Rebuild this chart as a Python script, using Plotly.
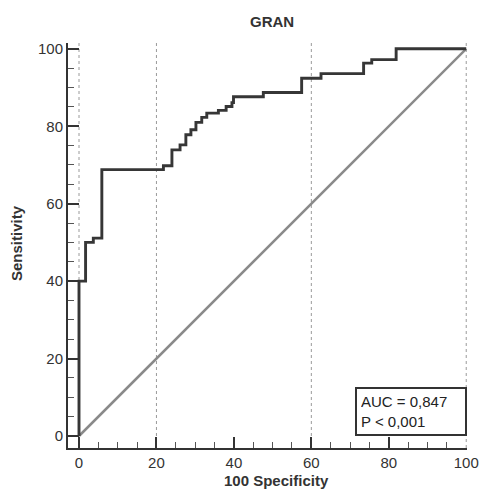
import plotly.graph_objects as go

# ROC curve points (100-Specificity, Sensitivity), drawn as steps
fpr = [0, 0, 1.7, 3.7, 5.9, 21.8, 24.0, 26.1, 27.6, 28.9, 30.2, 31.7, 33.0,
       36.0, 38.0, 39.5, 39.9, 47.6, 57.5, 62.5, 73.5, 75.6, 81.9, 100]
tpr = [0, 40, 50.0, 51.1, 68.8, 69.8, 73.9, 75.2, 77.8, 79.1, 81.0, 82.3, 83.4,
       84.1, 85.1, 86.1, 87.6, 88.7, 92.4, 93.6, 96.3, 97.2, 100, 100]
ref_x = [0, 100]
ref_y = [0, 100]
grid_x = [0, 20, 60, 100]
title_text = "<b>GRAN</b>"
x_title = "<b>100 Specificity</b>"
y_title = "<b>Sensitivity</b>"
auc_text = "AUC = 0,847<br>P < 0,001"

FONT = "Liberation Sans, Arial, sans-serif"

fig = go.Figure()
for gx in grid_x:
    fig.add_shape(type="line", xref="x", yref="paper", x0=gx, x1=gx, y0=0, y1=1,
                  line=dict(color="#9a9a9a", width=1, dash="dot"), layer="below")

fig.add_trace(go.Scatter(x=ref_x, y=ref_y, mode="lines",
                         line=dict(color="#8a8a8a", width=2.5), hoverinfo="skip"))
fig.add_trace(go.Scatter(x=fpr, y=tpr, mode="lines", line_shape="hv",
                         line=dict(color="#363636", width=2.9), hoverinfo="skip"))

fig.add_annotation(x=100.1, y=-0.1, xref="x", yref="y", xanchor="right", yanchor="bottom",
                   text=auc_text, showarrow=False, align="left",
                   font=dict(family=FONT, size=15, color="#222"),
                   bordercolor="#333", borderwidth=2, borderpad=4,
                   bgcolor="white", width=100, height=37)

fig.add_annotation(x=0.5, y=1, xref="paper", yref="paper", xanchor="center", yanchor="middle",
                   yshift=22, xshift=4.5, text=title_text, showarrow=False,
                   font=dict(family=FONT, size=15, color="#333"))
fig.add_annotation(x=0, y=0.5, xref="paper", yref="paper", xanchor="center", yanchor="middle",
                   xshift=-52, yshift=2.5, textangle=-90,
                   text=y_title, showarrow=False,
                   font=dict(family=FONT, size=15, color="#333"))
fig.add_annotation(x=0.5, y=0, xref="paper", yref="paper", xanchor="center", yanchor="middle",
                   yshift=-32, xshift=8.5, text=x_title, showarrow=False,
                   font=dict(family=FONT, size=15, color="#333"))

axis_common = dict(showgrid=False, zeroline=False, showline=True, linecolor="#333",
                   linewidth=2, ticks="inside", ticklen=11, tickwidth=2, tickcolor="#333",
                   automargin=False, ticklabeloverflow="allow",
                   tickfont=dict(family=FONT, size=15, color="#333"),
                   minor=dict(dtick=5, ticks="inside", ticklen=6, tickwidth=1.2,
                              tickcolor="#555", showgrid=False))

fig.update_layout(
    width=479, height=490,
    margin=dict(l=68, r=12, t=43, b=42),
    paper_bgcolor="white", plot_bgcolor="white",
    showlegend=False,
    xaxis=dict(range=[-2.84, 100.2], tick0=0, dtick=20, **axis_common),
    yaxis=dict(range=[-3.1, 101.5], tick0=0, dtick=20, **axis_common),
)

fig.write_html("out.html", config={"displayModeBar": False},
               post_script="document.body.style.margin='0';document.body.style.overflow='hidden';")
